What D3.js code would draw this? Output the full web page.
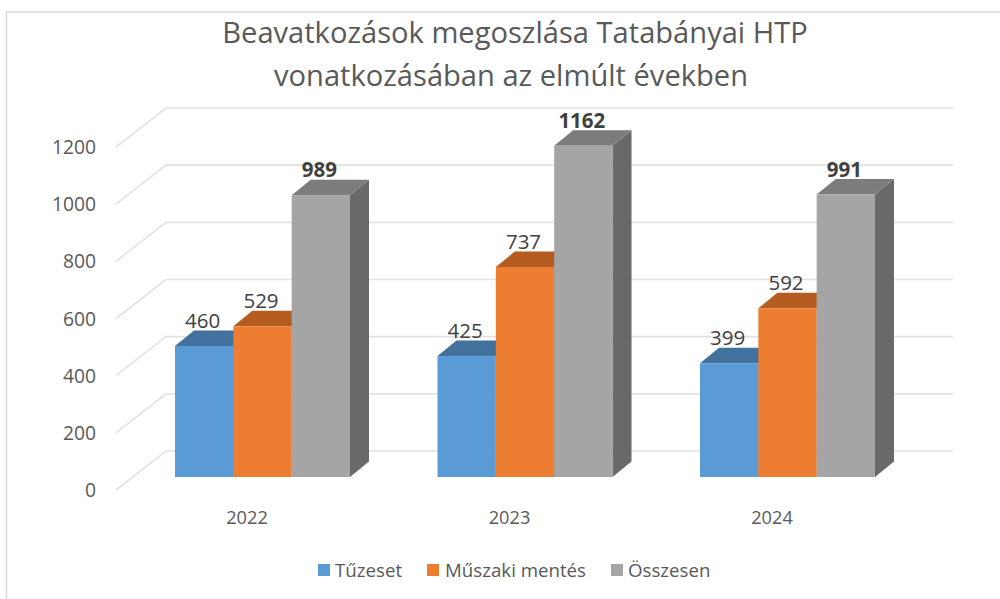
<!DOCTYPE html>
<html><head><meta charset="utf-8">
<script src="https://cdn.jsdelivr.net/npm/d3@7"></script>
<style>html,body{margin:0;background:#fff}svg{display:block}text{font-family:"Open Sans","Noto Sans",sans-serif}</style>
</head><body><svg id="c" width="1000" height="599"></svg>
<script>
const titleLines = ["Beavatkozások megoszlása Tatabányai HTP","vonatkozásában az elmúlt években"];
const categories = ["2022","2023","2024"];
const seriesNames = ["Tűzeset","Műszaki mentés","Összesen"];
const tuzeset = [460,425,399];
const muszaki = [529,737,592];
const osszesen = [989,1162,991];
const yTicks = [0,200,400,600,800,1000,1200];
const front = ["#5b9bd5","#ed7d31","#a5a5a5"];
const topC = ["#41719c","#b55d20","#7c7c7c"];
const side = ["#3f6f9c","#ad5a20","#696969"];
const seriesValues = [tuzeset,muszaki,osszesen];

const svg = d3.select("#c");
// frame
svg.append("path").attr("d","M6.5,599V12H1000").attr("fill","none").attr("stroke","#d9d9d9").attr("stroke-width",1.5);

const yFront = d3.scaleLinear().domain([0,1200]).range([477,134]);
const yBar = d3.scaleLinear().domain([0,1200]).range([477,135]);
const floorDy = d3.scaleLinear().domain([0,1]).range([13,-26]);
const floorX = d3.scaleLinear().domain([0,1]).range([116,166]);
const rightX = 953;
const barDx = 19, barDy = 15.5;

// gridlines
const grid = svg.append("g").attr("fill","none").attr("stroke","#e2e2e2").attr("stroke-width",1.6);
yTicks.forEach(t=>{
  const y0 = yFront(t)+floorDy(0), y1 = yFront(t)+floorDy(1);
  grid.append("path").attr("d",d3.line()([[floorX(0),y0],[floorX(1),y1],[rightX,y1]]));
  svg.append("text").attr("x",96).attr("y",y0+7).attr("text-anchor","end")
    .attr("font-size",19.3).attr("fill","#595959").text(t);
});

const xGroup = d3.scaleBand().domain(categories).range([175,962.5]);
const xBar = d3.scaleBand().domain(d3.range(3)).range([0,175]);
const g = svg.append("g");
categories.forEach((c,ci)=>{
  seriesValues.forEach((vals,si)=>{
    const v = vals[ci];
    const x0 = xGroup(c)+xBar(si), x1 = x0+xBar.bandwidth();
    const yt = yBar(v), yb = yBar(0);
    g.append("path").attr("fill",side[si]).attr("d",d3.line()([[x1,yt],[x1+barDx,yt-barDy],[x1+barDx,yb-barDy],[x1,yb]]));
    g.append("path").attr("fill",topC[si]).attr("d",d3.line()([[x0,yt],[x0+barDx,yt-barDy],[x1+barDx,yt-barDy],[x1,yt]]));
    g.append("rect").attr("x",x0).attr("y",yt).attr("width",x1-x0).attr("height",yb-yt).attr("fill",front[si]);
  });
});
categories.forEach((c,ci)=>{
  seriesValues.forEach((vals,si)=>{
    const v = vals[ci];
    const x0 = xGroup(c)+xBar(si);
    g.append("text").attr("x",x0+xBar.bandwidth()/2-1.5).attr("y",yBar(v)-18).attr("text-anchor","middle")
      .attr("font-size",20.5).attr("font-weight",si==2?700:400)
      .attr("fill","#404040").text(v);
  });
  svg.append("text").attr("x",xGroup(c)+72).attr("y",524).attr("text-anchor","middle").attr("font-size",18.2).attr("fill","#595959").text(c);
});
// title
const titleX = [515,511], titleY = [43,86];
titleLines.forEach((t,i)=>svg.append("text").attr("x",titleX[i]).attr("y",titleY[i]).attr("text-anchor","middle")
  .attr("font-size",29.1).attr("fill","#595959").text(t));
// legend
const lx = [318,427,611], ltx = [335,445,628];
seriesNames.forEach((n,i)=>{
  svg.append("rect").attr("x",lx[i]).attr("y",564).attr("width",12).attr("height",12).attr("fill",front[i]);
  svg.append("text").attr("x",ltx[i]).attr("y",576.5).attr("font-size",18.7).attr("fill","#595959").text(n);
});
</script></body></html>
